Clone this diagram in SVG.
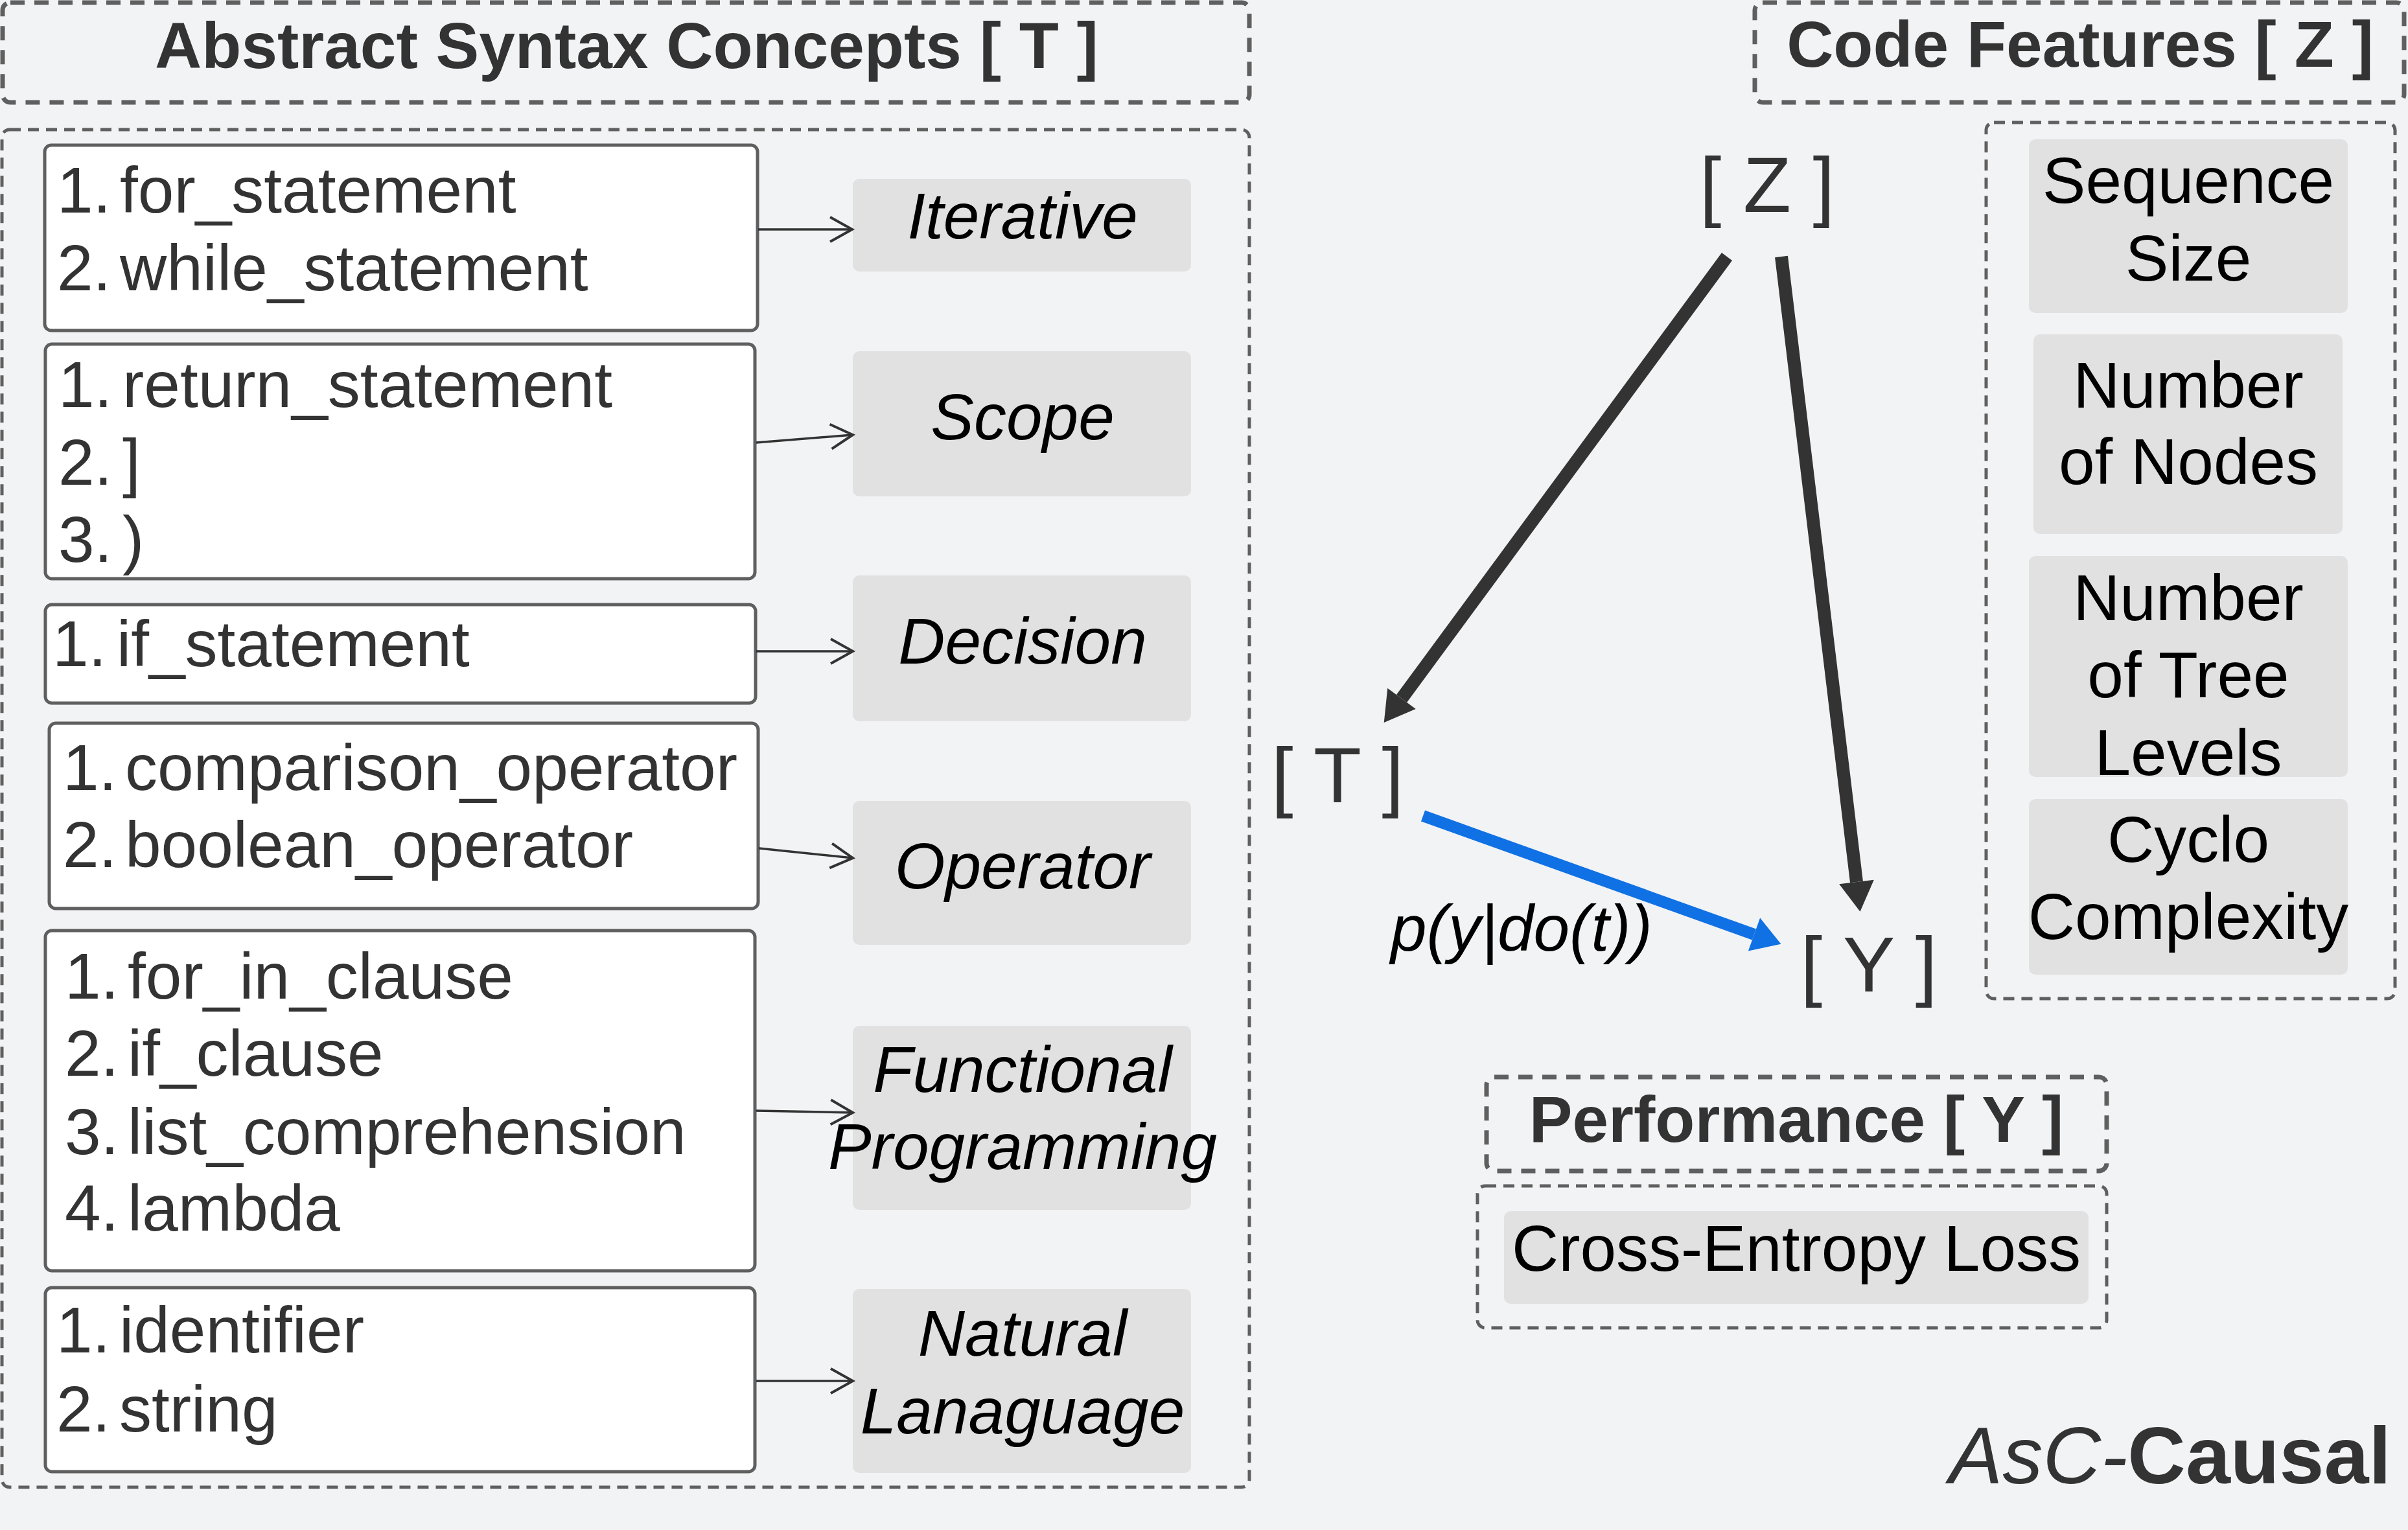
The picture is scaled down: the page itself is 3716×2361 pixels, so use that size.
<svg xmlns="http://www.w3.org/2000/svg" width="3716" height="2361" viewBox="0 0 3716 2361">
<style>
text{font-family:"Liberation Sans",Arial,sans-serif;}
.title{fill:none;stroke:#5f5f5f;stroke-width:7;stroke-dasharray:22 15;}
.cont{fill:none;stroke:#5f5f5f;stroke-width:5;stroke-dasharray:17 11;}
.list{fill:#fff;stroke:#5f5f5f;stroke-width:5;}
.gbox{fill:#e1e1e1;}
.tt{font-size:100px;font-weight:bold;fill:#333;text-anchor:middle;}
.li{font-size:100px;fill:#333;}
.cat{font-size:100px;font-style:italic;fill:#000;text-anchor:middle;}
.feat{font-size:100px;fill:#000;text-anchor:middle;}
.var{font-size:121px;fill:#333;text-anchor:middle;}
.thin{stroke:#333;stroke-width:3.5;fill:none;}
.thick{stroke:#333;stroke-width:20;fill:none;}
.blue{stroke:#1071e5;stroke-width:18;fill:none;}
</style>
<defs>
<marker id="open" markerUnits="userSpaceOnUse" viewBox="-40 -25 44 50" refX="0" refY="0" markerWidth="44" markerHeight="50" orient="auto" overflow="visible">
<path d="M-34,-19 L0,0 L-34,19" fill="none" stroke="#333" stroke-width="4"/>
</marker>
<marker id="headDark" markerUnits="userSpaceOnUse" viewBox="0 -28 47 56" refX="0" refY="0" markerWidth="47" markerHeight="56" orient="auto" overflow="visible">
<path d="M0,-27 L46,0 L0,27 z" fill="#333"/>
</marker>
<marker id="headBlue" markerUnits="userSpaceOnUse" viewBox="0 -28 47 56" refX="0" refY="0" markerWidth="47" markerHeight="56" orient="auto" overflow="visible">
<path d="M0,-27 L44,0 L0,27 z" fill="#1071e5"/>
</marker>
</defs>
<rect width="3716" height="2361" fill="#f2f3f5"/>

<g id="title-asc">
<rect class="title" x="4" y="4" width="1924" height="154" rx="12"/>
<text class="tt" x="967" y="105">Abstract Syntax Concepts [ T ]</text>
</g>
<g id="container-asc">
<rect class="cont" x="3" y="200" width="1925" height="2095" rx="12"/>
</g>

<g id="list-iterative">
<rect class="list" x="69" y="224" width="1100" height="286" rx="10"/>
<text class="li" y="328"><tspan x="88">1.</tspan><tspan x="185">for_statement</tspan></text>
<text class="li" y="448"><tspan x="88">2.</tspan><tspan x="185">while_statement</tspan></text>
</g>
<g id="list-scope">
<rect class="list" x="70" y="531" width="1095" height="362" rx="10"/>
<text class="li" y="628"><tspan x="90">1.</tspan><tspan x="189">return_statement</tspan></text>
<text class="li" y="748"><tspan x="90">2.</tspan><tspan x="189">]</tspan></text>
<text class="li" y="867"><tspan x="90">3.</tspan><tspan x="189">)</tspan></text>
</g>
<g id="list-decision">
<rect class="list" x="70" y="933" width="1096" height="152" rx="10"/>
<text class="li" y="1028"><tspan x="81">1.</tspan><tspan x="180">if_statement</tspan></text>
</g>
<g id="list-operator">
<rect class="list" x="76" y="1116" width="1094" height="286" rx="10"/>
<text class="li" y="1219"><tspan x="97">1.</tspan><tspan x="193">comparison_operator</tspan></text>
<text class="li" y="1338"><tspan x="97">2.</tspan><tspan x="193">boolean_operator</tspan></text>
</g>
<g id="list-functional">
<rect class="list" x="70" y="1436" width="1095" height="525" rx="10"/>
<text class="li" y="1541"><tspan x="100">1.</tspan><tspan x="197">for_in_clause</tspan></text>
<text class="li" y="1660"><tspan x="100">2.</tspan><tspan x="197">if_clause</tspan></text>
<text class="li" y="1781"><tspan x="100">3.</tspan><tspan x="197">list_comprehension</tspan></text>
<text class="li" y="1899"><tspan x="100">4.</tspan><tspan x="197">lambda</tspan></text>
</g>
<g id="list-natural">
<rect class="list" x="70" y="1987" width="1095" height="284" rx="10"/>
<text class="li" y="2087"><tspan x="87">1.</tspan><tspan x="184">identifier</tspan></text>
<text class="li" y="2209"><tspan x="87">2.</tspan><tspan x="184">string</tspan></text>
</g>

<g id="cat-iterative">
<rect class="gbox" x="1316" y="276" width="522" height="143" rx="10"/>
<text class="cat" x="1578" y="368">Iterative</text>
</g>
<g id="cat-scope">
<rect class="gbox" x="1316" y="542" width="522" height="224" rx="10"/>
<text class="cat" x="1578" y="678">Scope</text>
</g>
<g id="cat-decision">
<rect class="gbox" x="1316" y="888" width="522" height="225" rx="10"/>
<text class="cat" x="1578" y="1024">Decision</text>
</g>
<g id="cat-operator">
<rect class="gbox" x="1316" y="1236" width="522" height="222" rx="10"/>
<text class="cat" x="1578" y="1371">Operator</text>
</g>
<g id="cat-functional">
<rect class="gbox" x="1316" y="1583" width="522" height="284" rx="10"/>
<text class="cat" x="1578" y="1685">Functional</text>
<text class="cat" x="1578" y="1804">Programming</text>
</g>
<g id="cat-natural">
<rect class="gbox" x="1316" y="1989" width="522" height="284" rx="10"/>
<text class="cat" x="1578" y="2092">Natural</text>
<text class="cat" x="1578" y="2212">Lanaguage</text>
</g>

<g id="title-features">
<rect class="title" x="2708" y="4" width="1002" height="154" rx="12"/>
<text class="tt" x="3210" y="103">Code Features [ Z ]</text>
</g>
<g id="container-features">
<rect class="cont" x="3065" y="189" width="631" height="1352" rx="12"/>
</g>
<g id="feat-seq">
<rect class="gbox" x="3131" y="215" width="492" height="268" rx="10"/>
<text class="feat" x="3377" y="313">Sequence</text>
<text class="feat" x="3377" y="433">Size</text>
</g>
<g id="feat-nodes">
<rect class="gbox" x="3138" y="516" width="477" height="308" rx="10"/>
<text class="feat" x="3377" y="629">Number</text>
<text class="feat" x="3377" y="747">of Nodes</text>
</g>
<g id="feat-levels">
<rect class="gbox" x="3131" y="858" width="492" height="341" rx="10"/>
<text class="feat" x="3377" y="957">Number</text>
<text class="feat" x="3377" y="1076">of Tree</text>
<text class="feat" x="3377" y="1196">Levels</text>
</g>
<g id="feat-cyclo">
<rect class="gbox" x="3131" y="1233" width="492" height="271" rx="10"/>
<text class="feat" x="3377" y="1330">Cyclo</text>
<text class="feat" x="3377" y="1449">Complexity</text>
</g>

<g id="node-Z"><text class="var" x="2727" y="327">[ Z ]</text></g>
<g id="node-T"><text class="var" x="2064" y="1238">[ T ]</text></g>
<g id="node-Y"><text class="var" x="2884" y="1530">[ Y ]</text></g>

<g id="title-performance">
<rect class="title" x="2294" y="1662" width="957" height="145" rx="12"/>
<text class="tt" x="2772" y="1762">Performance [ Y ]</text>
</g>
<g id="container-performance">
<rect class="cont" x="2280" y="1830" width="971" height="219" rx="12"/>
<rect class="gbox" x="2321" y="1869" width="902" height="143" rx="10"/>
<text class="feat" x="2772" y="1961">Cross-Entropy Loss</text>
</g>

<g id="brand">
<text x="3690" y="2289" style="font-size:124px;fill:#333;text-anchor:end"><tspan font-style="italic">AsC-</tspan><tspan font-weight="bold">Causal</tspan></text>
</g>

<g id="connectors">
<line class="thin" x1="1170" y1="354" x2="1315" y2="354" marker-end="url(#open)"/>
<line class="thin" x1="1167" y1="683" x2="1316" y2="671" marker-end="url(#open)"/>
<line class="thin" x1="1167" y1="1005" x2="1316" y2="1005" marker-end="url(#open)"/>
<line class="thin" x1="1171" y1="1309" x2="1316" y2="1324" marker-end="url(#open)"/>
<line class="thin" x1="1167" y1="1714" x2="1316" y2="1717" marker-end="url(#open)"/>
<line class="thin" x1="1167" y1="2131" x2="1316" y2="2131" marker-end="url(#open)"/>
<line class="thick" x1="2665" y1="396" x2="2163" y2="1078" marker-end="url(#headDark)"/>
<line class="thick" x1="2749" y1="396" x2="2865" y2="1361" marker-end="url(#headDark)"/>
<line class="blue" x1="2196" y1="1259" x2="2707" y2="1442" marker-end="url(#headBlue)"/>
<text x="2146" y="1467" style="font-size:100px;font-style:italic;fill:#000">p(y|do(t))</text>
</g>
</svg>
